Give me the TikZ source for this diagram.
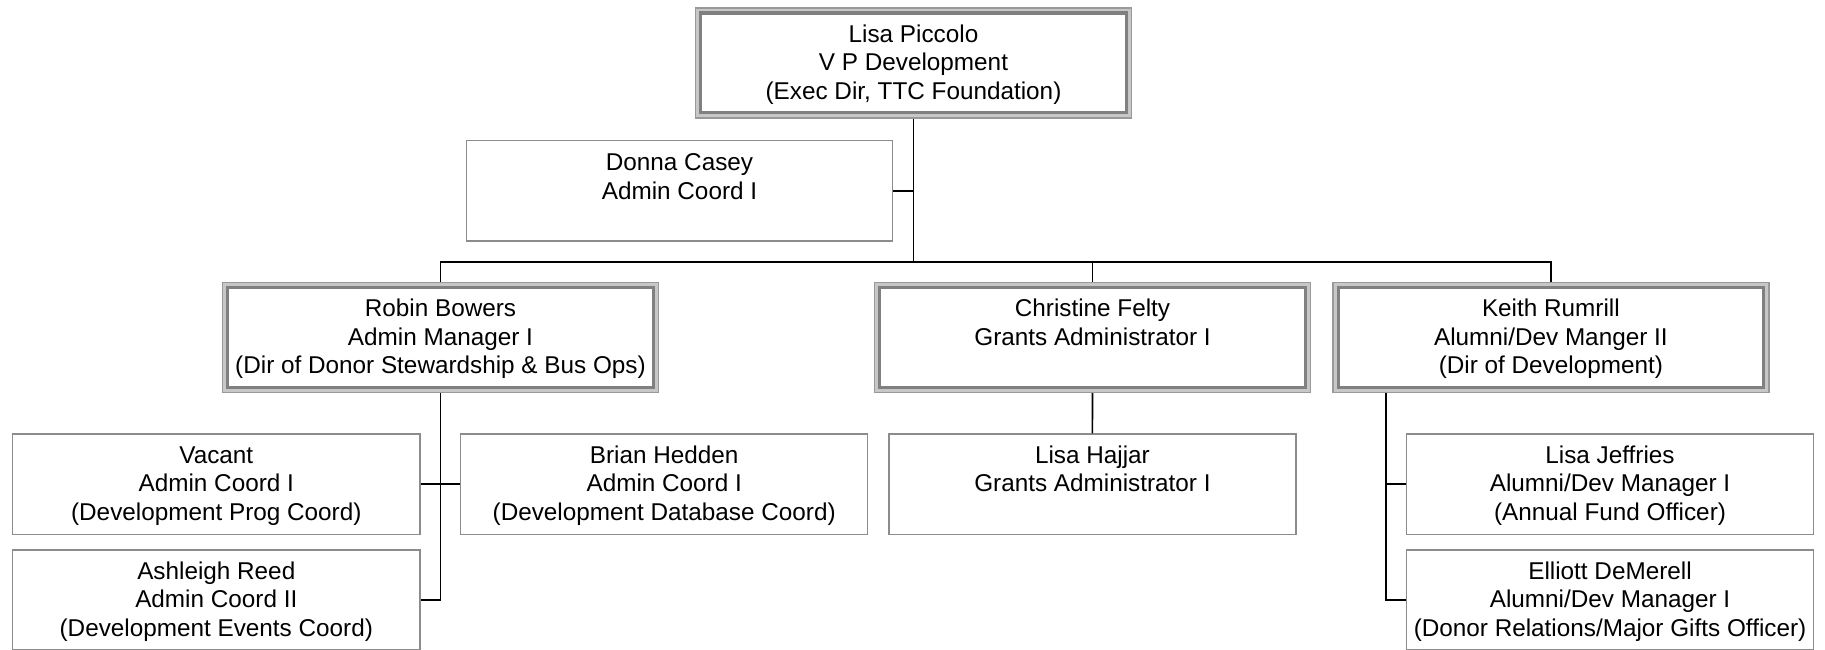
\documentclass[tikz,border=0pt]{standalone}
\usepackage{fontspec}
\setmainfont{Liberation Sans}
\newcommand{\boxlines}[4]{\parbox[c][#2][t]{#1}{\centering\rule{0pt}{#3}#4}}
\newcommand{\leadtext}[1]{\boxlines{435.8pt}{109.8pt}{34.2pt}{#1}}
\newcommand{\subtext}[1]{\boxlines{407.1pt}{100.3pt}{29.3pt}{#1}}
\tikzset{
  boxfont/.style={font=\fontsize{24.3pt}{28.6pt}\selectfont, text=black},
  leadbox/.style={boxfont, rectangle, draw=black!40, line width=1.7pt, inner sep=0pt,
    path picture={
      \draw[black!22, line width=2.7pt]
        ([shift={(2.2pt,-2.2pt)}]path picture bounding box.north west) rectangle
        ([shift={(-2.2pt,2.2pt)}]path picture bounding box.south east);
      \draw[black!50, line width=3.3pt]
        ([shift={(5.2pt,-5.2pt)}]path picture bounding box.north west) rectangle
        ([shift={(-5.2pt,5.2pt)}]path picture bounding box.south east);
    }},
  subbox/.style={boxfont, rectangle, draw=black!45, line width=1.4pt, inner sep=0pt},
  link/.style={draw=black, line width=1.6pt}
}
\begin{document}
\begin{tikzpicture}[x=1pt, y=-1pt]
\useasboundingbox (0,0) rectangle (1825,650);

% level 1
\node[leadbox] (piccolo) at (913.5,62.8) {\leadtext{Lisa Piccolo\\V P Development\\(Exec Dir, TTC Foundation)}};
\node[subbox] (casey) at (679.5,190.85) {\boxlines{425.6pt}{100.3pt}{30pt}{Donna Casey\\Admin Coord I}};

% level 2
\node[leadbox] (bowers) at (440.5,337.45) {\leadtext{Robin Bowers\\Admin Manager I\\(Dir of Donor Stewardship \& Bus Ops)}};
\node[leadbox] (felty) at (1092.5,337.45) {\leadtext{Christine Felty\\Grants Administrator I}};
\node[leadbox] (rumrill) at (1550.85,337.45) {\leadtext{Keith Rumrill\\Alumni/Dev Manger II\\(Dir of Development)}};

% level 3
\node[subbox] (vacant) at (216.3,484.15) {\subtext{Vacant\\Admin Coord I\\(Development Prog Coord)}};
\node[subbox] (reed) at (216.3,600) {\subtext{Ashleigh Reed\\Admin Coord II\\(Development Events Coord)}};
\node[subbox] (hedden) at (664.2,484.15) {\subtext{Brian Hedden\\Admin Coord I\\(Development Database Coord)}};
\node[subbox] (hajjar) at (1092.4,484.15) {\subtext{Lisa Hajjar\\Grants Administrator I}};
\node[subbox] (jeffries) at (1610,484.15) {\subtext{Lisa Jeffries\\Alumni/Dev Manager I\\(Annual Fund Officer)}};
\node[subbox] (demerell) at (1610,600) {\subtext{Elliott DeMerell\\Alumni/Dev Manager I\\(Donor Relations/Major Gifts Officer)}};

% connectors
\coordinate (bus) at (913.5,261.7);
\draw[link] (piccolo.south) -- (bus);
\draw[link] (casey.east) -- (casey.east -| piccolo.south);
\draw[link] (bowers.north) |- (bus) -| (rumrill.north);
\draw[link] (felty.north) -- (felty.north |- bus);
\draw[link] (bowers.south) |- (reed.east);
\draw[link] (vacant.east) -- (hedden.west);
\draw[link] (felty.south) -- (hajjar.north);
\coordinate (kdrop) at ([xshift=-164.85pt]rumrill.south);
\draw[link] (kdrop) |- (demerell.west);
\draw[link] (jeffries.west) -- (jeffries.west -| kdrop);
\end{tikzpicture}
\end{document}
